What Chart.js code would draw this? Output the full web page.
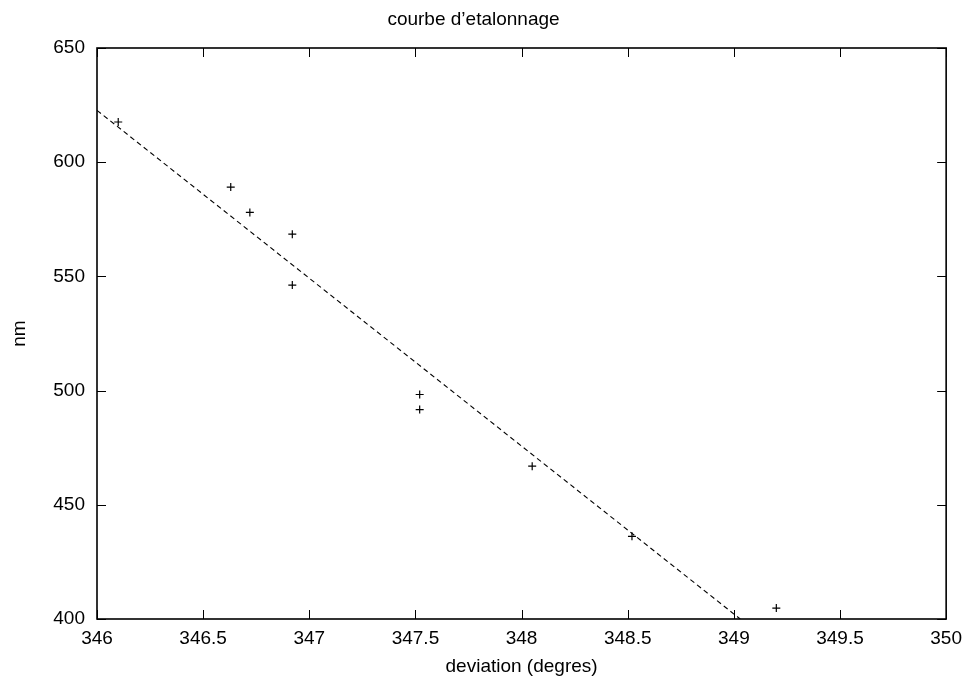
<!DOCTYPE html>
<html>
<head>
<meta charset="utf-8">
<script src="https://cdn.jsdelivr.net/npm/chart.js@4/dist/chart.umd.min.js"></script>
<style>
  html, body { margin: 0; padding: 0; background: #fff; }
  #c { display: block; }
</style>
</head>
<body>
<canvas id="c" width="970" height="682"></canvas>
<script>
// ---- data ----
const deviation = [346.10, 346.63, 346.72, 346.92, 346.92, 347.52, 347.52, 348.05, 348.52, 349.20];
const nm        = [617.6, 589.1, 578.0, 568.5, 546.2, 498.3, 491.7, 466.9, 436.2, 404.8];
// fitted straight line (end points as drawn)
const fitX = [346.0, 349.03];
const fitY = [622.7, 400.0];
// axes
const xTicks = [346, 346.5, 347, 347.5, 348, 348.5, 349, 349.5, 350];
const yTicks = [400, 450, 500, 550, 600, 650];
const titleText = "courbe d\u2019etalonnage";
const xTitle = "deviation (degres)";
const yTitle = "nm";

const FONT = "'Liberation Sans', Arial, Helvetica, sans-serif";

const measured = deviation.map((x, i) => ({ x: x, y: nm[i] }));
const fitLine = fitX.map((x, i) => ({ x: x, y: fitY[i] }));

const frameAndTicks = {
  id: 'frameAndTicks',
  afterDatasetsDraw(chart) {
    const { ctx, chartArea: a, scales } = chart;
    const L = 9;
    ctx.save();
    ctx.strokeStyle = '#000';
    ctx.lineWidth = 1;
    ctx.beginPath();
    xTicks.forEach(v => {
      const px = Math.round(scales.x.getPixelForValue(v)) + 0.5;
      ctx.moveTo(px, a.bottom); ctx.lineTo(px, a.bottom - L);
      ctx.moveTo(px, a.top); ctx.lineTo(px, a.top + L);
    });
    yTicks.forEach(v => {
      const py = Math.round(scales.y.getPixelForValue(v)) + 0.5;
      ctx.moveTo(a.left, py); ctx.lineTo(a.left + L, py);
      ctx.moveTo(a.right, py); ctx.lineTo(a.right - L, py);
    });
    ctx.stroke();
    ctx.lineWidth = 1.6;
    ctx.strokeRect(a.left, a.top, a.right - a.left, a.bottom - a.top);
    ctx.restore();
  }
};

new Chart(document.getElementById('c'), {
  type: 'scatter',
  data: {
    datasets: [
      {
        label: 'fit',
        type: 'line',
        data: fitLine,
        borderColor: '#000',
        borderWidth: 1.1,
        borderDash: [5, 3.5],
        pointRadius: 0,
        fill: false,
        tension: 0,
        order: 2
      },
      {
        label: 'mesures',
        data: measured,
        pointStyle: 'cross',
        pointRadius: 4,
        pointHoverRadius: 4,
        borderColor: '#000',
        backgroundColor: '#000',
        pointBorderWidth: 1.2,
        borderWidth: 1.2,
        order: 1
      }
    ]
  },
  options: {
    responsive: false,
    animation: false,
    events: [],
    layout: { padding: { left: 0, right: 23, top: 0, bottom: 0 } },
    plugins: {
      legend: { display: false },
      tooltip: { enabled: false },
      title: {
        display: true,
        text: titleText,
        color: '#000',
        font: { family: FONT, size: 19, weight: 'normal', lineHeight: 1.2 },
        padding: { top: 8, bottom: 17.2 }
      }
    },
    scales: {
      x: {
        type: 'linear',
        min: 346,
        max: 350,
        afterBuildTicks: s => { s.ticks = xTicks.map(v => ({ value: v })); },
        afterFit: s => { s.height = 63; },
        grid: { display: false, drawTicks: false },
        border: { display: false },
        ticks: {
          color: '#000',
          padding: 8,
          maxRotation: 0,
          autoSkip: false,
          font: { family: FONT, size: 19, lineHeight: 1.2 },
          callback: v => String(v)
        },
        title: {
          display: true,
          text: xTitle,
          color: '#000',
          font: { family: FONT, size: 19, lineHeight: 1.2 },
          padding: { top: 4, bottom: 4 }
        }
      },
      y: {
        type: 'linear',
        min: 400,
        max: 650,
        afterBuildTicks: s => { s.ticks = yTicks.map(v => ({ value: v })); },
        afterFit: s => { s.width = 97; },
        grid: { display: false, drawTicks: false },
        border: { display: false },
        ticks: {
          color: '#000',
          padding: 12,
          autoSkip: false,
          font: { family: FONT, size: 19, lineHeight: 1.2 },
          callback: v => String(v)
        },
        title: {
          display: true,
          text: yTitle,
          color: '#000',
          font: { family: FONT, size: 19, lineHeight: 1.2 },
          padding: { top: 8.6, bottom: 0 }
        }
      }
    }
  },
  plugins: [frameAndTicks]
});
</script>
</body>
</html>
